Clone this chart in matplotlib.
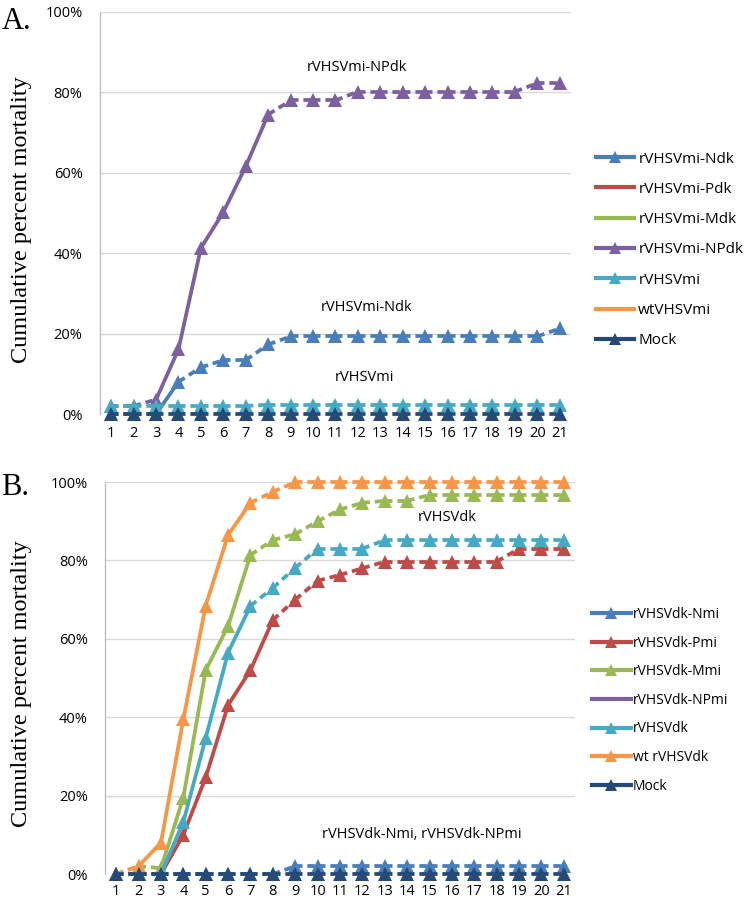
import matplotlib
matplotlib.use("Agg")
import matplotlib.pyplot as plt
from matplotlib.lines import Line2D
from matplotlib.ticker import FuncFormatter

days = list(range(1, 22))

# Panel A series
a_names = ["rVHSVmi-Ndk", "rVHSVmi-Pdk", "rVHSVmi-Mdk", "rVHSVmi-NPdk", "rVHSVmi", "wtVHSVmi", "Mock"]
a_Ndk = [0, 0, 0, 8.0, 11.6, 13.4, 13.4, 17.3, 19.3, 19.3, 19.3, 19.3, 19.3, 19.3, 19.3, 19.3, 19.3, 19.3, 19.3, 19.3, 21.3]
a_NPdk = [2, 2, 3.6, 16.1, 41.3, 50.2, 61.6, 74.5, 78, 78, 78, 80.2, 80.2, 80.2, 80.2, 80.2, 80.2, 80.2, 80.2, 82.3, 82.3]
a_mi = [2.0, 2.0, 2.0, 2.0, 2.0, 2.0, 2.0, 2.3, 2.3, 2.3, 2.3, 2.3, 2.3, 2.3, 2.3, 2.3, 2.3, 2.3, 2.3, 2.3, 2.3]
a_Mock = [0] * 21

# Panel B series
b_names = ["rVHSVdk-Nmi", "rVHSVdk-Pmi", "rVHSVdk-Mmi", "rVHSVdk-NPmi", "rVHSVdk", "wt rVHSVdk", "Mock"]
b_Nmi = [0, 0, 0, 0, 0, 0, 0, 0, 2, 2, 2, 2, 2, 2, 2, 2, 2, 2, 2, 2, 2]
b_Pmi = [0, 0, 0, 10, 24.7, 43.1, 52, 64.8, 70, 74.8, 76.3, 78, 79.7, 79.7, 79.7, 79.7, 79.7, 79.7, 83, 83, 83]
b_Mmi = [0, 2, 1.5, 19.5, 52, 63.3, 81.4, 85.2, 86.7, 90, 93, 94.7, 95.2, 95.2, 96.7, 96.7, 96.7, 96.7, 96.7, 96.7, 96.7]
b_dk = [0, 0, 0, 13.3, 34.7, 56.5, 68.4, 73, 78.1, 83, 83, 83, 85.2, 85.2, 85.2, 85.2, 85.2, 85.2, 85.2, 85.2, 85.2]
b_wt = [0, 2, 8, 39.5, 68.5, 86.5, 94.7, 97.5, 100, 100, 100, 100, 100, 100, 100, 100, 100, 100, 100, 100, 100]
b_Mock = [0] * 21

C_BLUE = "#4A7EBB"
C_RED = "#BE4B48"
C_GREEN = "#98B954"
C_PURPLE = "#7D60A0"
C_CYAN = "#46AAC5"
C_ORANGE = "#F79646"
C_NAVY = "#254A78"
colors = [C_BLUE, C_RED, C_GREEN, C_PURPLE, C_CYAN, C_ORANGE, C_NAVY]

LW = 2.7
DASH = (0, (2.0, 1.3))
MS = 10
SANS = ["Open Sans", "DejaVu Sans"]
SERIF = ["Liberation Serif", "DejaVu Serif"]


def draw_series(ax, y, color, z):
    for i in range(len(y) - 1):
        ls = "-" if abs(y[i + 1] - y[i]) >= 6 else DASH
        ax.plot(days[i:i + 2], y[i:i + 2], color=color, lw=LW, linestyle=ls,
                solid_capstyle="butt", dash_capstyle="butt", zorder=z, clip_on=False)
    ax.plot(days, y, linestyle="none", marker="^", ms=MS, color=color,
            markeredgewidth=0, zorder=z + 0.5, clip_on=False)


def style_axes(ax, xpad):
    ax.set_xlim(0.5, 21.5)
    ax.set_ylim(0, 100)
    ax.set_yticks([0, 20, 40, 60, 80, 100])
    ax.yaxis.set_major_formatter(FuncFormatter(lambda v, p: f"{int(v)}%"))
    ax.set_xticks(days)
    ax.set_xticklabels([str(d) for d in days])
    for s in ["top", "right", "bottom"]:
        ax.spines[s].set_visible(False)
    ax.spines["left"].set_color("#BFBFBF")
    ax.spines["left"].set_linewidth(1.0)
    ax.grid(axis="y", color="#D9D9D9", lw=1.0)
    ax.set_axisbelow(True)
    ax.tick_params(axis="y", length=0, pad=12.5, labelsize=10.5)
    ax.tick_params(axis="x", length=0, pad=xpad, labelsize=10.5)
    for lab in ax.get_xticklabels() + ax.get_yticklabels():
        lab.set_family(SANS)
    ax.set_ylabel("Cumulative percent mortality", family=SERIF, fontsize=17.5, labelpad=0)


fig = plt.figure(figsize=(7.5, 9.02), dpi=100)

# ---- Panel A ----
axA = fig.add_axes([0.1333, 0.541, 0.628, 0.4457])
style_axes(axA, 8.5)
axA.yaxis.set_label_coords(-0.145, 0.483)
a_series = [a_Ndk, None, None, a_NPdk, a_mi, None, a_Mock]
for k, (ser, col) in enumerate(zip(a_series, colors)):
    if ser is not None:
        draw_series(axA, ser, col, 3 + k)
axA.text(11.95, 86.3, "rVHSVmi-NPdk", family=SANS, fontsize=10.5, ha="center", va="center")
axA.text(12.4, 26.4, "rVHSVmi-Ndk", family=SANS, fontsize=10.5, ha="center", va="center")
axA.text(12.3, 9.2, "rVHSVmi", family=SANS, fontsize=10.5, ha="center", va="center")
fig.text(0.002, 0.976, "A.", family=SERIF, fontsize=22, ha="left", va="center")

hA = []
for k, (nm, col) in enumerate(zip(a_names, colors)):
    mk = "^" if a_series[k] is not None else None
    hA.append(Line2D([], [], color=col, lw=3.0, marker=mk, ms=9, markeredgewidth=0, label=nm))
fig.legend(handles=hA, loc="upper left", bbox_to_anchor=(0.795, 0.832), frameon=False,
           prop={"family": SANS, "size": 11}, handlelength=2.5, handletextpad=0.25,
           labelspacing=1.0, borderpad=0, borderaxespad=0)

# ---- Panel B ----
axB = fig.add_axes([0.14, 0.031, 0.6267, 0.4346])
style_axes(axB, 7)
axB.yaxis.set_label_coords(-0.155, 0.487)
b_series = [b_Nmi, b_Pmi, b_Mmi, None, b_dk, b_wt, b_Mock]
for k, (ser, col) in enumerate(zip(b_series, colors)):
    if ser is not None:
        draw_series(axB, ser, col, 3 + k)
axB.text(15.8, 91, "rVHSVdk", family=SANS, fontsize=10.5, ha="center", va="center")
axB.text(14.66, 10, "rVHSVdk-Nmi, rVHSVdk-NPmi", family=SANS, fontsize=10.5, ha="center", va="center")
fig.text(0.002, 0.459, "B.", family=SERIF, fontsize=22, ha="left", va="center")

hB = []
for k, (nm, col) in enumerate(zip(b_names, colors)):
    mk = "^" if b_series[k] is not None else None
    hB.append(Line2D([], [], color=col, lw=3.0, marker=mk, ms=9, markeredgewidth=0, label=nm))
fig.legend(handles=hB, loc="upper left", bbox_to_anchor=(0.789, 0.327), frameon=False,
           prop={"family": SANS, "size": 10}, handlelength=2.8, handletextpad=0.15,
           labelspacing=0.98, borderpad=0, borderaxespad=0)

fig.savefig("out.png", dpi=100)
